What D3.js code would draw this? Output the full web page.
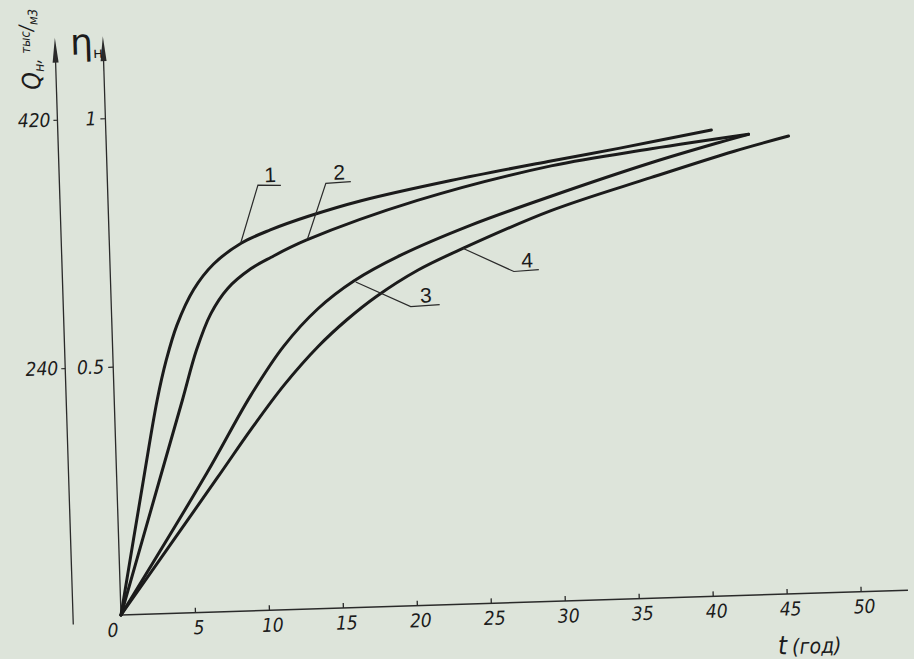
<!DOCTYPE html>
<html><head><meta charset="utf-8">
<script src="https://cdn.jsdelivr.net/npm/d3@7"></script>
<style>
body{margin:0;background:#dde4da;}
svg{display:block}
</style>
</head><body>
<svg id="c" width="914" height="659"></svg>
<script>
// ---- data ----
const years = [0, 5, 10, 15, 20, 25, 30, 35, 40, 45, 50];
const etaTicks = [0.5, 1];
const etaTickLabels = ["0.5", "1"];
const qTicks = [240, 420];
const curveNames = ["1", "2", "3", "4"];

const t1 = [0, 1.8, 2.9, 3.6, 4.4, 5.6, 7.0, 8.9, 10.9, 13.5, 17.1, 23.2, 30.0, 34.6, 40.9];
const eta1 = [0, 0.27, 0.43, 0.51, 0.58, 0.65, 0.70, 0.74, 0.765, 0.79, 0.818, 0.853, 0.886, 0.907, 0.938];
const t2 = [0, 2.9, 4.6, 5.66, 6.7, 7.9, 9.5, 10.9, 13.3, 20.9, 30.0, 36.8, 43.4];
const eta2 = [0, 0.27, 0.428, 0.528, 0.600, 0.650, 0.688, 0.710, 0.742, 0.815, 0.876, 0.904, 0.927];
const t3 = [0, 6.1, 9.2, 11.55, 13.93, 16.43, 19.66, 24.46, 29.93, 36.76, 41.34, 43.4];
const eta3 = [0, 0.28, 0.432, 0.530, 0.603, 0.657, 0.706, 0.762, 0.815, 0.876, 0.912, 0.927];
const t4 = [0, 6.8, 9.2, 11.5, 13.9, 15.9, 17.9, 20.8, 23.9, 29.9, 36.7, 42.4, 46.1];
const eta4 = [0, 0.27, 0.366, 0.452, 0.528, 0.580, 0.624, 0.675, 0.716, 0.786, 0.846, 0.894, 0.921];

// leader lines for the curve numbers (data coordinates)
const leaderAnchorT = [8.87, 13.41, 16.56, 23.86];
const leaderAnchorEta = [0.740, 0.746, 0.655, 0.716];
const leaderLineT0 = [10.16, 14.75, 20.22, 27.26];
const leaderLineT1 = [11.71, 16.44, 22.18, 28.95];
const leaderLineEta0 = [0.856, 0.855, 0.602, 0.666];
const leaderLineEta1 = [0.854, 0.857, 0.604, 0.668];

// ---- drawing ----
const svg = d3.select("#c");
svg.append("rect").attr("width", 914).attr("height", 659).attr("fill", "#dde4da");

const g = svg.append("g").attr("transform", "translate(121,615) rotate(-1.8)");

const x = d3.scaleLinear().domain([0, 50]).range([0, 740]);
const y = d3.scaleLinear().domain([0, 1]).range([0, -497]);
const q = d3.scaleLinear().domain([60, 420]).range([0, -497]);

const ink = "#1b1b1b";
const axisInk = "#2a2a2a";
const numFont = "'Liberation Sans Narrow','DejaVu Sans Condensed','Liberation Sans',sans-serif";

// X axis
const xAxis = g.append("g").call(
  d3.axisBottom(x).tickValues(years).tickSize(-5).tickSizeOuter(0).tickPadding(8).tickFormat(d3.format("d"))
);
xAxis.select(".domain").remove();
xAxis.selectAll(".tick line").attr("stroke", axisInk).attr("stroke-width", 1.3);
xAxis.selectAll(".tick text")
  .attr("font-family", numFont).attr("font-style", "italic").attr("font-size", 19)
  .attr("fill", ink)
  .attr("dx", d => d === 0 ? -9 : 3);
g.append("line")
  .attr("x1", x(0)).attr("y1", 0).attr("x2", x(53.2)).attr("y2", 0)
  .attr("stroke", axisInk).attr("stroke-width", 1.5);

// eta axis
const yAxis = g.append("g").call(
  d3.axisLeft(y).tickValues(etaTicks).tickSize(5).tickSizeOuter(0).tickPadding(4)
    .tickFormat((d, i) => etaTickLabels[i])
);
yAxis.select(".domain").remove();
yAxis.selectAll(".tick line").attr("stroke", axisInk).attr("stroke-width", 1.2);
yAxis.selectAll(".tick text")
  .attr("font-family", numFont).attr("font-style", "italic").attr("font-size", 19).attr("fill", ink);
g.append("line")
  .attr("x1", 0).attr("y1", 0).attr("x2", 0).attr("y2", y(1.14))
  .attr("stroke", axisInk).attr("stroke-width", 1.3);
g.append("path")
  .attr("d", `M0,${y(1.165)} L-3,${y(1.115)} L3,${y(1.115)} Z`)
  .attr("fill", axisInk);

// Q axis
const qx = -48;
const qAxis = g.append("g").attr("transform", `translate(${qx},0)`).call(
  d3.axisLeft(q).tickValues(qTicks).tickSize(4).tickSizeOuter(0).tickPadding(3).tickFormat(d3.format("d"))
);
qAxis.select(".domain").remove();
qAxis.selectAll(".tick line").attr("stroke", axisInk).attr("stroke-width", 1.2);
qAxis.selectAll(".tick text")
  .attr("font-family", numFont).attr("font-style", "italic").attr("font-size", 19).attr("fill", ink);
g.append("line")
  .attr("x1", qx).attr("y1", 8).attr("x2", qx).attr("y2", y(1.14))
  .attr("stroke", axisInk).attr("stroke-width", 1.3);
g.append("path")
  .attr("d", `M${qx},${y(1.165)} L${qx - 3},${y(1.115)} L${qx + 3},${y(1.115)} Z`)
  .attr("fill", axisInk);

// axis titles
const etaTitle = g.append("text")
  .attr("x", -33).attr("y", y(1.13))
  .attr("font-family", "'DejaVu Sans',sans-serif").attr("font-size", 36).attr("fill", ink);
etaTitle.append("tspan").text("η");
etaTitle.append("tspan").attr("font-size", 15).attr("dy", 4).text("н");

const qTitle = g.append("text")
  .attr("transform", `translate(-64,${y(1.062)}) rotate(-90)`)
  .attr("font-family", numFont).attr("font-style", "italic").attr("fill", ink);
qTitle.append("tspan").attr("font-size", 25).text("Q");
qTitle.append("tspan").attr("font-size", 14).attr("dy", 4).text("н");
qTitle.append("tspan").attr("font-size", 18).attr("dy", -4).text(", ");
qTitle.append("tspan").attr("font-size", 13).attr("dy", -9).text("тыс");
qTitle.append("tspan").attr("font-size", 19).attr("dy", 3).text("/");
qTitle.append("tspan").attr("font-size", 13).attr("dy", 5).text("м3");

const xTitle = g.append("text")
  .attr("x", x(44.3)).attr("y", 60)
  .attr("font-family", numFont).attr("font-style", "italic").attr("fill", ink);
xTitle.append("tspan").attr("font-size", 26).text("t");
xTitle.append("tspan").attr("font-size", 21).attr("dx", 5).text("(год)");

// curves
const series = [[t1, eta1], [t2, eta2], [t3, eta3], [t4, eta4]];
const line = d3.line().x(d => x(d[0])).y(d => y(d[1])).curve(d3.curveCatmullRom.alpha(0.5));
g.selectAll("path.curve")
  .data(series)
  .join("path")
  .attr("class", "curve")
  .attr("d", s => line(s[0].map((tv, i) => [tv, s[1][i]])))
  .attr("fill", "none").attr("stroke", ink).attr("stroke-width", 3)
  .attr("stroke-linecap", "round").attr("stroke-linejoin", "round");

// leaders and curve numbers
curveNames.forEach((name, i) => {
  g.append("path")
    .attr("d", `M${x(leaderAnchorT[i])},${y(leaderAnchorEta[i])} L${x(leaderLineT0[i])},${y(leaderLineEta0[i])} L${x(leaderLineT1[i])},${y(leaderLineEta1[i])}`)
    .attr("fill", "none").attr("stroke", axisInk).attr("stroke-width", 1.2);
  g.append("text")
    .attr("x", (x(leaderLineT0[i]) + x(leaderLineT1[i])) / 2 + 1)
    .attr("y", (y(leaderLineEta0[i]) + y(leaderLineEta1[i])) / 2 - 3)
    .attr("text-anchor", "middle")
    .attr("font-family", "'Liberation Sans','DejaVu Sans',sans-serif")
    .attr("font-size", 21).attr("fill", ink)
    .text(name);
});
</script>
</body></html>
